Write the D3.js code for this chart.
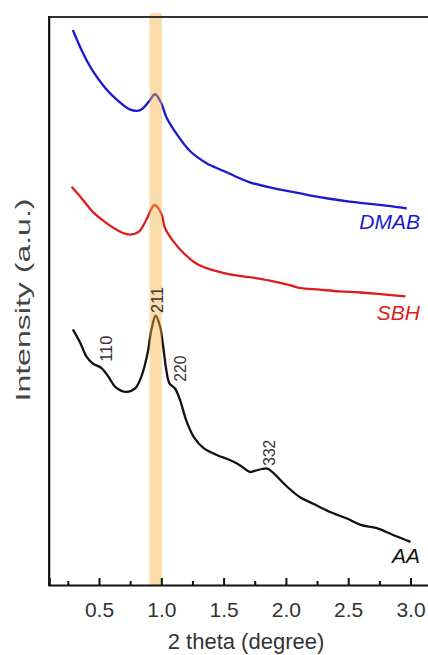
<!DOCTYPE html>
<html>
<head>
<meta charset="utf-8">
<script src="https://cdn.jsdelivr.net/npm/d3@7"></script>
<style>
  html, body { margin: 0; padding: 0; background: #fff; }
  svg { display: block; }
  text { font-family: "Liberation Sans", Arial, sans-serif; }
</style>
</head>
<body>
<svg id="chart" width="428" height="655"></svg>
<script>
// ---- data (2 theta in degree, intensity in arbitrary units) ----
const dmabX = [0.29,0.37,0.45,0.55,0.64,0.75,0.83,0.90,0.95,1.00,1.04,1.12,1.23,1.36,1.50,1.63,1.71,1.87,2.03,2.19,2.35,2.51,2.68,2.84,2.97];
const dmabY = [97.7,93.7,90.5,87.5,85.5,83.7,83.6,85.1,86.4,84.8,82.4,79.5,76.4,74.3,72.9,71.6,70.9,70.0,69.3,68.6,68.0,67.5,67.1,66.7,66.3];

const sbhX = [0.28,0.36,0.45,0.56,0.67,0.75,0.82,0.88,0.945,1.00,1.03,1.10,1.18,1.28,1.35,1.42,1.55,1.71,1.87,2.03,2.11,2.27,2.43,2.60,2.76,2.96];
const sbhY = [70.1,68.1,65.7,63.7,62.2,61.7,62.2,64.3,66.9,65.4,62.8,60.4,58.4,56.6,55.9,55.4,54.7,54.2,53.6,52.8,52.3,52.0,51.7,51.5,51.2,50.8];

const aaX = [0.29,0.35,0.40,0.45,0.52,0.575,0.63,0.72,0.79,0.84,0.89,0.92,0.955,0.99,1.015,1.04,1.065,1.11,1.15,1.20,1.26,1.34,1.445,1.55,1.63,1.71,1.75,1.85,1.89,2.01,2.11,2.22,2.35,2.49,2.60,2.73,2.86,3.00];
const aaY = [45.0,42.6,40.2,39.0,38.2,36.7,34.9,34.0,34.6,36.7,40.8,44.9,47.4,45.5,42.0,37.9,35.5,34.6,32.6,29.0,26.1,24.1,22.9,22.0,21.1,19.9,20.1,20.5,19.9,17.3,15.5,14.3,12.9,11.7,10.6,10.0,8.8,7.6];

const seriesNames = ["DMAB", "SBH", "AA"];
const seriesLabelY = [62.7, 46.7, 3.9];   // intensity where each name sits

const peakLabels = ["110", "211", "220", "332"];
const peakTheta  = [0.602, 1.014, 1.198, 1.912];
const peakInt    = [39.3, 47.9, 35.8, 21.0];

const bandRange = [0.905, 1.005];
const majorTicks = [0.5, 1.0, 1.5, 2.0, 2.5, 3.0];
const minorTicks = [0.25, 0.75, 1.25, 1.75, 2.25, 2.75];
const xTitle = "2 theta (degree)";
const yTitle = "Intensity (a.u.)";

// ---- layout ----
const svg = d3.select("#chart");
const x = d3.scaleLinear().domain([0.1, 3.25]).range([49.16, 441.65]);
const y = d3.scaleLinear().domain([0, 100]).range([585, 17]);
const colors = ["#1a1acc", "#dd1c1c", "#111111"];

const series = [
  dmabX.map((v, i) => [v, dmabY[i]]),
  sbhX.map((v, i) => [v, sbhY[i]]),
  aaX.map((v, i) => [v, aaY[i]])
];

const line = d3.line().x(d => x(d[0])).y(d => y(d[1])).curve(d3.curveCatmullRom.alpha(0.5));

svg.selectAll("path.series").data(series).enter().append("path")
  .attr("class", "series")
  .attr("d", line)
  .attr("fill", "none")
  .attr("stroke", (d, i) => colors[i])
  .attr("stroke-width", 2.3)
  .attr("stroke-linejoin", "round");

// highlight band
svg.append("rect")
  .attr("x", x(bandRange[0]))
  .attr("width", x(bandRange[1]) - x(bandRange[0]))
  .attr("y", 13)
  .attr("height", y(0) - 13)
  .attr("fill", "#f5b342")
  .attr("opacity", 0.45);

// frame: top border and axes
svg.append("line").attr("x1", x(0.1)).attr("x2", 440).attr("y1", y(100)).attr("y2", y(100))
  .attr("stroke", "#333").attr("stroke-width", 2);

const xAxis = d3.axisBottom(x).tickValues(majorTicks).tickSize(-7).tickFormat(d3.format(".1f")).tickPadding(0);
const gx = svg.append("g").attr("transform", `translate(0,${y(0)})`).call(xAxis);
gx.select(".domain").attr("stroke", "#111").attr("stroke-width", 2.2);
gx.selectAll(".tick line").attr("stroke", "#111").attr("stroke-width", 2);
gx.selectAll(".tick text")
  .attr("y", 32).attr("dy", 0)
  .attr("fill", "#333")
  .style("font-size", "21px")
  .style("font-family", '"Liberation Sans", Arial, sans-serif');

svg.append("g").attr("transform", `translate(0,${y(0)})`)
  .call(d3.axisBottom(x).tickValues(minorTicks).tickSize(-4).tickFormat(""))
  .call(g => g.select(".domain").remove())
  .selectAll(".tick line").attr("stroke", "#111").attr("stroke-width", 2);

svg.append("line").attr("x1", x(0.1)).attr("x2", x(0.1)).attr("y1", y(100) - 1).attr("y2", y(0) + 1)
  .attr("stroke", "#111").attr("stroke-width", 2.2);

// axis titles
svg.append("text").attr("x", 246).attr("y", 649)
  .attr("text-anchor", "middle").attr("fill", "#333")
  .style("font-size", "22px").text(xTitle);

svg.append("text")
  .attr("transform", `translate(30,300) rotate(-90)`)
  .attr("text-anchor", "middle").attr("fill", "#444")
  .attr("textLength", 203).attr("lengthAdjust", "spacingAndGlyphs")
  .style("font-size", "21px").text(yTitle);

// series names
svg.selectAll("text.sname").data(seriesNames).enter().append("text")
  .attr("class", "sname")
  .attr("x", x(3.076))
  .attr("y", (d, i) => y(seriesLabelY[i]))
  .attr("text-anchor", "end")
  .attr("fill", (d, i) => colors[i])
  .style("font-size", "21px").style("font-style", "italic")
  .text(d => d);

// peak indices
svg.selectAll("text.peak").data(peakLabels).enter().append("text")
  .attr("class", "peak")
  .attr("transform", (d, i) => `translate(${x(peakTheta[i])},${y(peakInt[i])}) rotate(-90)`)
  .attr("text-anchor", "start")
  .attr("fill", "#333")
  .attr("textLength", 26).attr("lengthAdjust", "spacingAndGlyphs")
  .style("font-size", "17px")
  .text(d => d);
</script>
</body>
</html>
